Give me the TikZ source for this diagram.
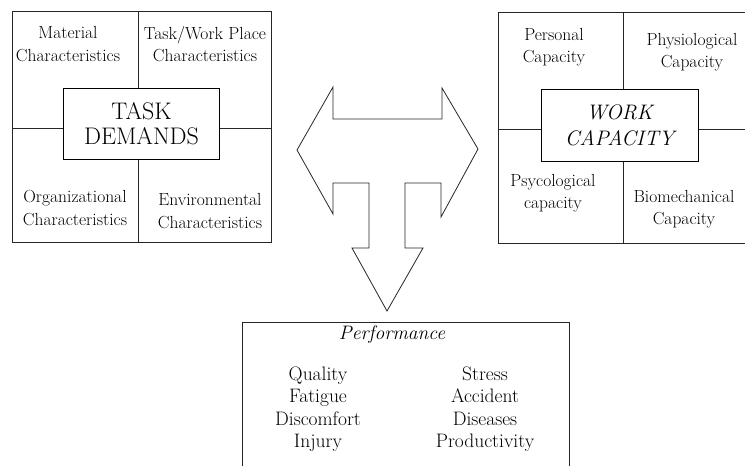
\documentclass[tikz,border=0pt]{standalone}
\usetikzlibrary{positioning}
\tikzset{
  frame/.style={line width=0.8pt, black!85}, % outer boxes and dividers
  cell/.style={ % text of one quarter
    align=center, inner sep=1pt, text=black,
    font=\fontsize{17.5}{22.5}\selectfont
  },
  hub/.style={ % central box of a quarter block
    draw, line width=0.8pt, fill=white, align=center, text=black,
    minimum width=156pt, minimum height=71pt, inner sep=0pt,
    font=\fontsize{24}{25}\selectfont
  },
  outcome/.style={
    align=center, inner sep=1pt, text=black,
    font=\fontsize{19.5}{22.5}\selectfont
  },
  bigarrow/.style={draw, line width=0.8pt, black!85, fill=white, line join=miter}
}

\begin{document}
\begin{tikzpicture}[x=1pt, y=-1pt]
  \useasboundingbox (0,0) rectangle (745,466);

  % task demands block
  \draw[frame] (12,11) rectangle (271,242);
  \draw[frame] (138,11) -- (138,242) (12,128) -- (271,128);
  \node[hub] (tasks) at (141.5,123.5) {TASK\\DEMANDS};
  \node[cell] (material) at (68,44) {Material\\Characteristics};
  \node[cell] (workplace) at (205,44) {Task/Work Place\\Characteristics};
  \node[cell] (organiz) at (75,208) {Organizational\\Characteristics};
  \node[cell] (environ) at (210,211) {Environmental\\Characteristics};

  % work capacity block
  \draw[frame] (745,12) -- (498,12) -- (498,243) -- (745,243);
  \draw[frame] (623,12) -- (623,243) (498,129) -- (745,129);
  \node[hub, minimum width=157pt, minimum height=72pt, font=\fontsize{21}{26}\selectfont\itshape] (capacity) at (619.5,125) {WORK\\CAPACITY};
  \node[cell] (personal) at (554,47) {Personal\\Capacity};
  \node[cell] (physio) at (692,52) {Physiological\\Capacity};
  \node[cell] (psyco) at (553,193) {Psycological\\capacity};
  \node[cell] (biomech) at (684,209) {Biomechanical\\Capacity};

  % three-way arrow
  \draw[bigarrow] (297,150) -- (333,87) -- (333,119) -- (442,119) -- (442,88)
    -- (478,149) -- (441,217) -- (441,183) -- (405,183) -- (405,248)
    -- (423,248) -- (387,311) -- (352,248) -- (369,248) -- (369,183)
    -- (333,183) -- (333,214) -- cycle;

  % performance block
  \draw[frame] (242,466) -- (242,322) -- (569,322) -- (569,466);
  \node[outcome, font=\fontsize{19.5}{22.5}\selectfont\itshape] (perf) at (392,335) {Performance};
  \node[outcome] (good) at (318,409) {Quality\\Fatigue\\Discomfort\\Injury};
  \node[outcome] (bad) at (485,409) {Stress\\Accident\\Diseases\\Productivity};
\end{tikzpicture}
\end{document}
